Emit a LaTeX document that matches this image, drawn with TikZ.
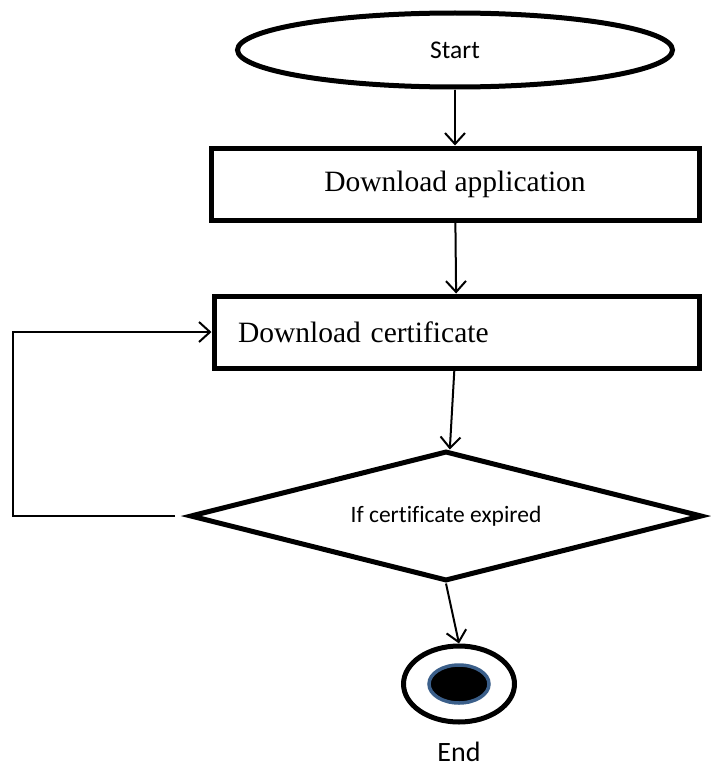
\documentclass[tikz,border=0pt]{standalone}
\usepackage{fontspec}
\setmainfont[Ligatures=NoCommon]{Liberation Serif}
\newfontfamily\calibri[Ligatures=NoCommon]{Carlito}
\usetikzlibrary{arrows.meta,shapes.geometric,positioning,calc}
\definecolor{endblue}{HTML}{3B5F8A}

\begin{document}
\begin{tikzpicture}[x=1pt,y=-1pt,
  terminal/.style={draw,ellipse,line width=5pt,inner sep=0pt},
  stepbox/.style={draw,rectangle,line width=5pt,minimum height=72pt,font=\fontsize{29.5}{32}\selectfont},
  decision/.style={draw,diamond,aspect=3.9,line width=5pt,inner sep=0pt,minimum width=512pt,minimum height=130pt,font=\calibri\fontsize{23.5}{26}\selectfont},
  flow/.style={line width=2pt,-{Straight Barb[length=11pt,width=20pt,line width=2pt]}}]
\useasboundingbox (0,0) rectangle (711,768);
\node[terminal,minimum width=435pt,minimum height=74pt,font=\calibri\fontsize{25.5}{28}\selectfont] (start) at (455,50) {Start};
\node[stepbox,minimum width=488pt] (app) at (455,184) {Download application};
\node[stepbox,minimum width=485pt,text width=437pt,align=left,inner xsep=22pt] (cert) at (456.5,332) {Download certificate};
\node[decision] (dec) at (446,516) {If certificate expired};
\node[terminal,minimum width=111pt,minimum height=76pt] (stop) at (459,684) {};
\node[ellipse,draw=endblue,fill=black,line width=3.5pt,minimum width=60pt,minimum height=38pt,inner sep=0pt] (stopdot) at (stop.center) {};
\node[font=\calibri\fontsize{28}{30}\selectfont] (endlbl) at (459,752) {End};
\coordinate (gap) at (175,516);
\path[flow]
(start) edge (app)
(app) edge (cert)
(cert) edge (dec)
(dec.south) edge (stop.north)
;
\draw[flow] (gap) -- (13,516) |- (cert.west);
\end{tikzpicture}
\end{document}
